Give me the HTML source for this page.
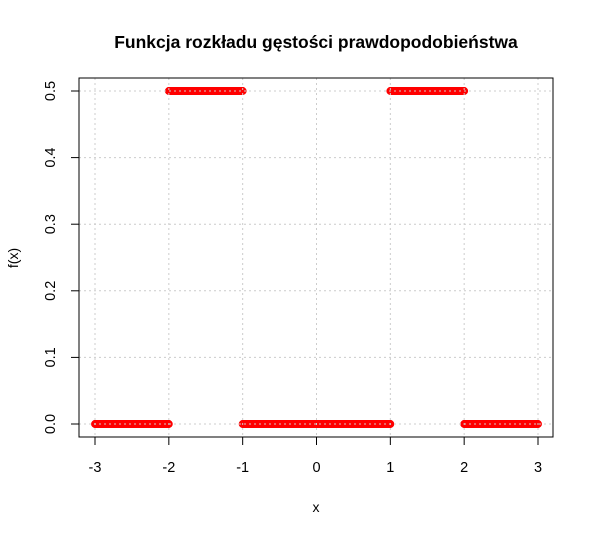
<!DOCTYPE html>
<html><head><meta charset="utf-8"><style>body{margin:0;background:#fff}svg{display:block;font-family:"Liberation Sans",sans-serif}</style></head>
<body>
<svg id="c" width="595" height="536">
<text x="316" y="48" text-anchor="middle" font-size="17.5" font-weight="bold">Funkcja rozkładu gęstości prawdopodobieństwa</text>
<text x="316" y="512" text-anchor="middle" font-size="14">x</text>
<text transform="translate(18,258) rotate(-90)" text-anchor="middle" font-size="14">f(x)</text>
<g id="marks"></g><g id="grid"></g><g id="axes"></g>
<rect x="79" y="78" width="474" height="359" fill="none" stroke="#000"/>
</svg>
<script>
const segStarts=[-3,-2,-1,1,2];
const segEnds=[-2,-1,1,2,3];
const segValues=[0,0.5,0,0.5,0];
const xTicks=[-3,-2,-1,0,1,2,3];
const yTicks=[0,0.1,0.2,0.3,0.4,0.5];
const ns="http://www.w3.org/2000/svg";
const X=v=>95+(v+3)*(538-95)/6;
const Y=v=>424-v*(424-91)/0.5;
function mk(t,a,p){const e=document.createElementNS(ns,t);for(const k in a)e.setAttribute(k,a[k]);p.appendChild(e);return e;}
const marks=document.getElementById('marks'),grid=document.getElementById('grid'),axes=document.getElementById('axes');
segStarts.forEach((s,i)=>{
  const n=Math.round((segEnds[i]-s)/0.005);
  for(let j=0;j<=n;j++){
    const x=s+(segEnds[i]-s)*j/n;
    const c=mk('circle',{cx:X(x),cy:Y(segValues[i]),r:3.3,fill:'none',stroke:'#f00','stroke-width':1.3},marks);
    
    
  }
});
xTicks.forEach(t=>{
  const g=mk('line',{x1:X(t),x2:X(t),y1:78,y2:437,stroke:'#ccc','stroke-dasharray':'2,3'},grid);
  
  
  mk('line',{x1:X(t),x2:X(t),y1:437,y2:445,stroke:'#000'},axes);
  const l=mk('text',{x:X(t),y:472,'text-anchor':'middle','font-size':14.5},axes);l.textContent=t;
  
  
});
yTicks.forEach(t=>{
  const g=mk('line',{x1:79,x2:553,y1:Y(t),y2:Y(t),stroke:'#ccc','stroke-dasharray':'2,3'},grid);
  
  
  mk('line',{x1:71,x2:79,y1:Y(t),y2:Y(t),stroke:'#000'},axes);
  const l=mk('text',{transform:`translate(55,${Y(t)}) rotate(-90)`,'text-anchor':'middle','font-size':14.5},axes);l.textContent=t.toFixed(1);
  
  
});
mk('line',{x1:X(-3),x2:X(3),y1:437,y2:437,stroke:'#000'},axes);
mk('line',{x1:79,x2:79,y1:Y(0),y2:Y(0.5),stroke:'#000'},axes);
</script>
</body></html>
